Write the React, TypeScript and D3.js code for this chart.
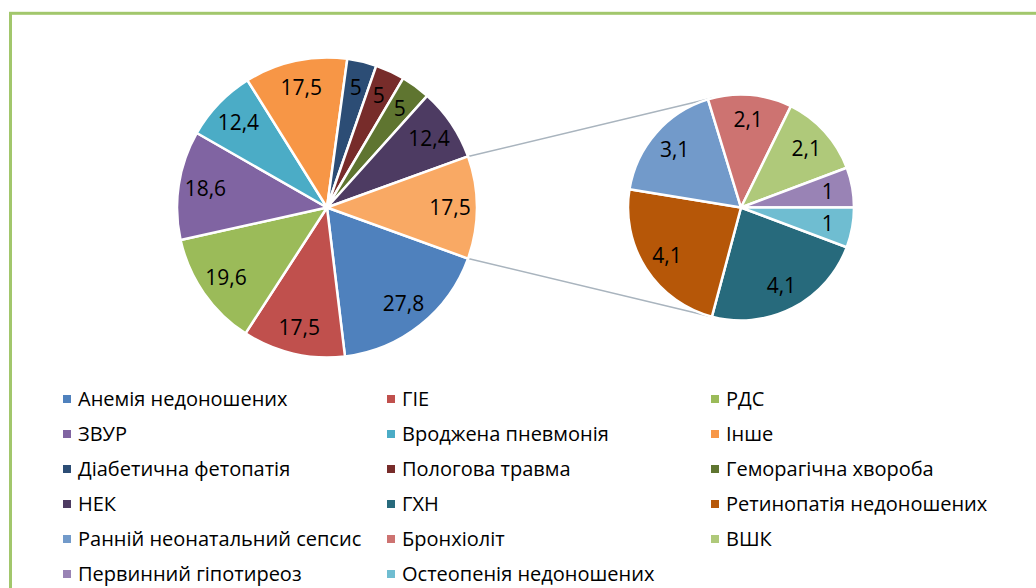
import React from "react";
import * as d3 from "d3";

const mainNames = [
  "Анемія недоношених",
  "ГІЕ",
  "РДС",
  "ЗВУР",
  "Вроджена пневмонія",
  "Інше",
  "Діабетична фетопатія",
  "Пологова травма",
  "Геморагічна хвороба",
  "НЕК",
];
const mainValues = [27.8, 17.5, 19.6, 18.6, 12.4, 17.5, 5, 5, 5, 12.4];
const mainColors = [
  "#4F81BD", "#C0504D", "#9BBB59", "#8064A2", "#4BACC6",
  "#F79646", "#2C4D75", "#772C2A", "#5F7530", "#4D3B62",
];

const secondNames = [
  "ГХН",
  "Ретинопатія недоношених",
  "Ранній неонатальний сепсис",
  "Бронхіоліт",
  "ВШК",
  "Первинний гіпотиреоз",
  "Остеопенія недоношених",
];
const secondValues = [4.1, 4.1, 3.1, 2.1, 2.1, 1, 1];
const secondColors = [
  "#276A7C", "#B65708", "#729ACA", "#CD7371", "#AFC97A", "#9983B5", "#6FBDD1",
];
const otherColor = "#F9A964";

const W = 1036;
const H = 588;
const fontFamily = "'Open Sans', 'Noto Sans', sans-serif";

const fmt = (v: number) => String(v).replace(".", ",");

export default function App() {
  const c1 = { x: 327, y: 207.5, r: 150 };
  const c2 = { x: 741, y: 207.5, r: 113 };

  const otherValue = d3.sum(secondValues);
  const mainAll = [...mainValues, otherValue];
  const mainTotal = d3.sum(mainAll);
  const half = (Math.PI * otherValue) / mainTotal;
  const s1 = Math.PI / 2 + half;

  const pie1 = d3.pie<number>().sort(null).startAngle(s1).endAngle(s1 + 2 * Math.PI);
  const arcs1 = pie1(mainAll);
  const arc1 = d3.arc<d3.PieArcDatum<number>>().innerRadius(0).outerRadius(c1.r);
  const lab1 = d3.arc<d3.PieArcDatum<number>>().innerRadius(c1.r * 0.82).outerRadius(c1.r * 0.82);

  const lastShare = (2 * Math.PI * secondValues[secondValues.length - 1]) / otherValue;
  const s2 = Math.PI / 2 + lastShare;
  const pie2 = d3.pie<number>().sort(null).startAngle(s2).endAngle(s2 + 2 * Math.PI);
  const arcs2 = pie2(secondValues);
  const arc2 = d3.arc<d3.PieArcDatum<number>>().innerRadius(0).outerRadius(c2.r);
  const lab2 = d3.arc<d3.PieArcDatum<number>>().innerRadius(c2.r * 0.78).outerRadius(c2.r * 0.78);

  // connector lines: from edge of combined slice, tangent to the second pie
  const connectors = [-1, 1].map((sgn) => {
    const a = Math.PI / 2 + sgn * half;
    const px = c1.x + c1.r * Math.sin(a);
    const py = c1.y - c1.r * Math.cos(a);
    const dx = px - c2.x;
    const dy = py - c2.y;
    const d = Math.hypot(dx, dy);
    const base = Math.atan2(dy, dx);
    const off = Math.acos(c2.r / d);
    const t = base - sgn * off;
    return { x1: px, y1: py, x2: c2.x + c2.r * Math.cos(t), y2: c2.y + c2.r * Math.sin(t) };
  });

  const legendNames = [...mainNames, ...secondNames];
  const legendColors = [...mainColors, ...secondColors];
  const colX = d3.scaleLinear().domain([0, 1]).range([63, 387]);
  const rowY = d3.scaleLinear().domain([0, 1]).range([406, 441]);

  return (
    <svg
      width={W}
      height={H}
      style={{ position: "absolute", left: 0, top: 0, background: "#fff" }}
      fontFamily={fontFamily}
    >
      <rect x={10.5} y={13.3} width={W + 20} height={H + 20} fill="none" stroke="#A2C76C" strokeWidth={3} />

      {connectors.map((l, i) => (
        <line key={i} {...l} stroke="#A9B4BE" strokeWidth={1.5} />
      ))}

      <g transform={`translate(${c1.x},${c1.y})`}>
        {arcs1.map((a, i) => (
          <path
            key={i}
            d={arc1(a) || ""}
            fill={i < mainColors.length ? mainColors[i] : otherColor}
            stroke="#fff"
            strokeWidth={2.5}
            strokeLinejoin="round"
          />
        ))}
        {arcs1.map((a, i) => {
          const [x, y] = lab1.centroid(a);
          return (
            <text key={i} x={x} y={y} dy="0.35em" textAnchor="middle" fontSize={21} fill="#000">
              {fmt(a.data)}
            </text>
          );
        })}
      </g>

      <g transform={`translate(${c2.x},${c2.y})`}>
        {arcs2.map((a, i) => (
          <path
            key={i}
            d={arc2(a) || ""}
            fill={secondColors[i]}
            stroke="#fff"
            strokeWidth={2.5}
            strokeLinejoin="round"
          />
        ))}
        {arcs2.map((a, i) => {
          const [x, y] = lab2.centroid(a);
          return (
            <text key={i} x={x} y={y} dy="0.35em" textAnchor="middle" fontSize={21} fill="#000">
              {fmt(a.data)}
            </text>
          );
        })}
      </g>

      <g>
        {legendNames.map((name, i) => {
          const col = i % 3;
          const row = Math.floor(i / 3);
          const x = colX(col);
          const y = rowY(row);
          return (
            <g key={name}>
              <rect x={x} y={y - 11} width={8} height={8} fill={legendColors[i]} />
              <text x={x + 15} y={y} fontSize={20} fill="#000">
                {name}
              </text>
            </g>
          );
        })}
      </g>
    </svg>
  );
}
